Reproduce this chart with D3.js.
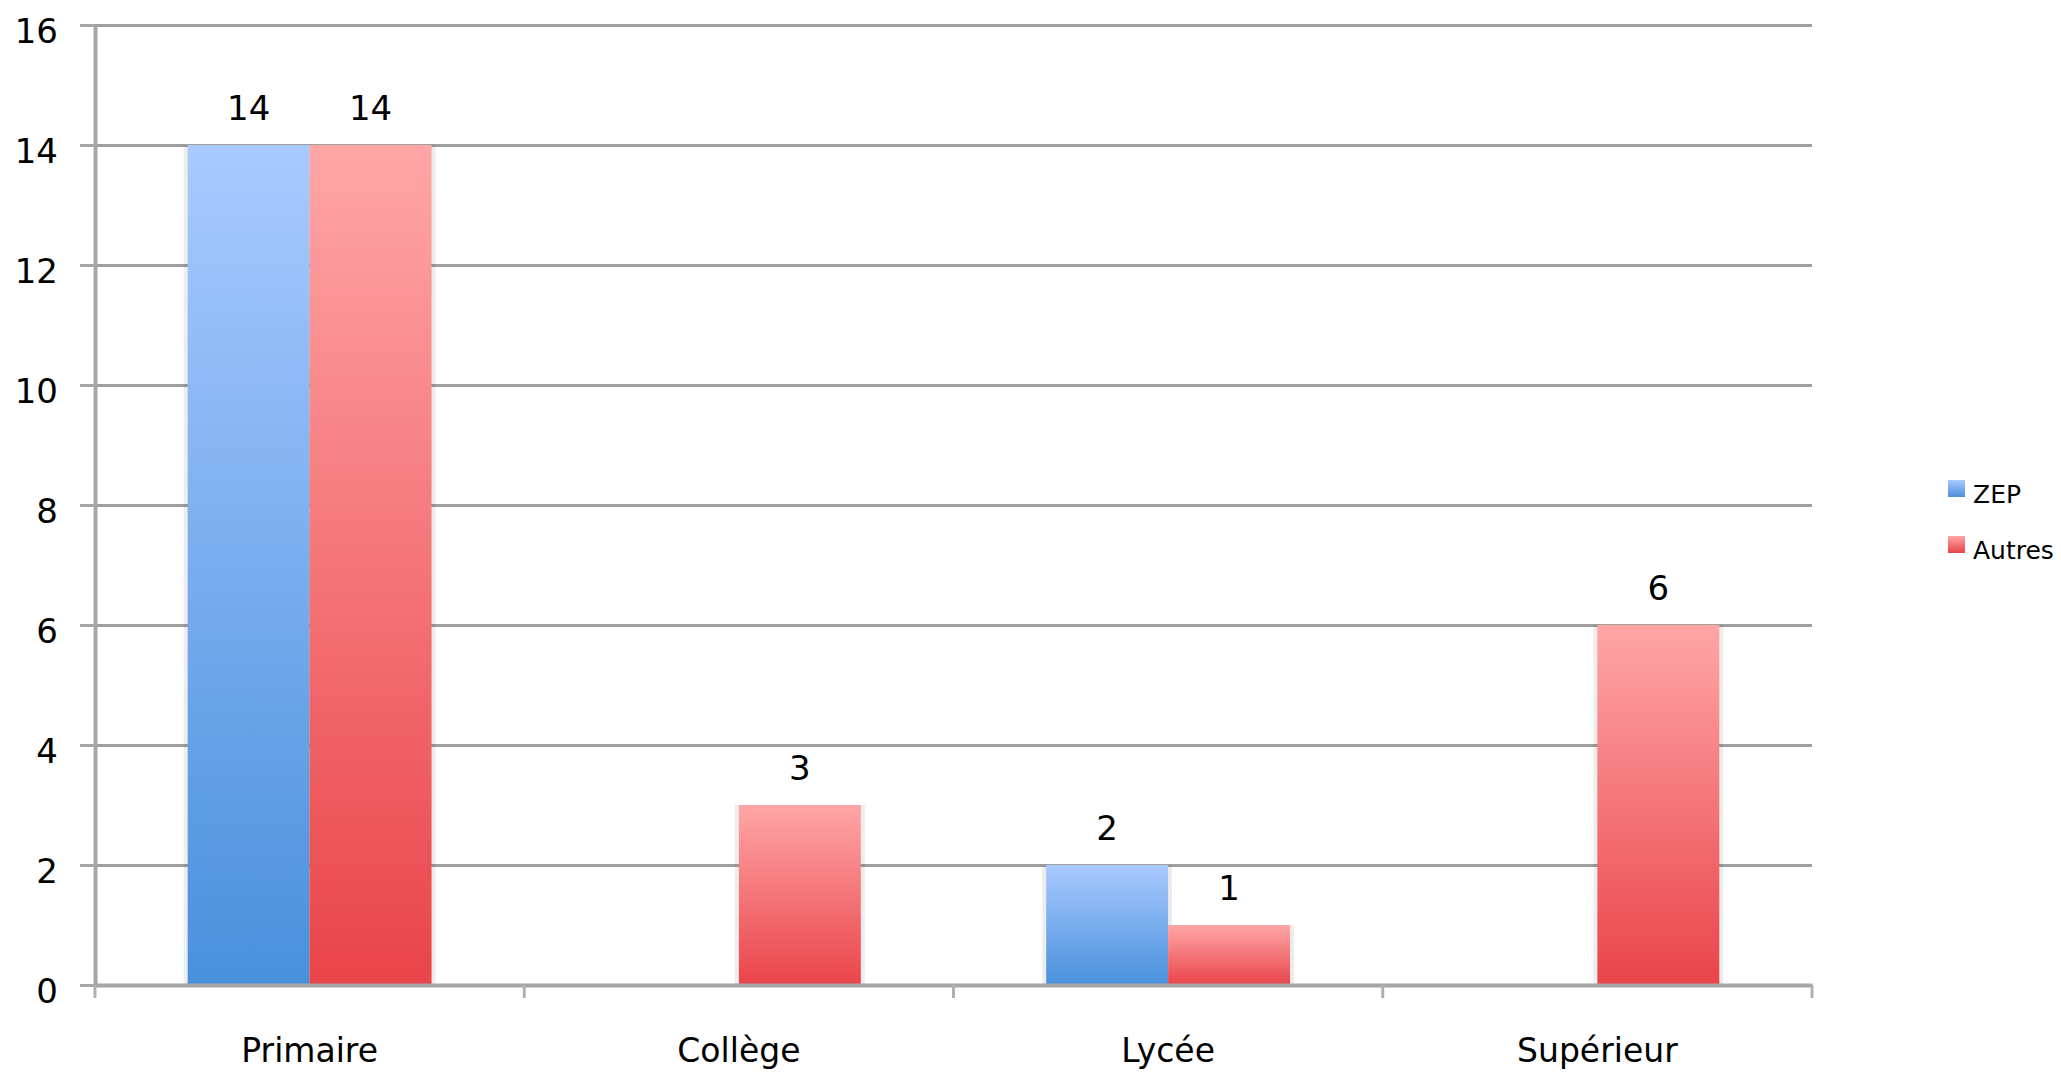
<!DOCTYPE html>
<html>
<head>
<meta charset="utf-8">
<script src="https://cdn.jsdelivr.net/npm/d3@7"></script>
<style>
  body { margin: 0; background: #fff; }
  text { font-family: "DejaVu Sans", "Lucida Grande", sans-serif; fill: #000; }
</style>
</head>
<body>
<div id="chart"></div>
<script>
// data
var categories = ["Primaire", "Collège", "Lycée", "Supérieur"];
var seriesNames = ["ZEP", "Autres"];
var zepValues = [14, 0, 2, 0];
var autresValues = [14, 3, 1, 6];
var yTicks = [0, 2, 4, 6, 8, 10, 12, 14, 16];

// set the dimensions and margins of the graph
var margin = {top: 25, right: 249, bottom: 89, left: 95},
    width = 2061 - margin.left - margin.right,
    height = 1074 - margin.top - margin.bottom;

var svg = d3.select("#chart")
  .append("svg")
    .attr("width", width + margin.left + margin.right)
    .attr("height", height + margin.top + margin.bottom);

// gradients, one per series (light on top, darker at the bottom)
var defs = svg.append("defs");
var gradColors = {ZEP: ["#a9caff", "#4990dc"], Autres: ["#ffa6a6", "#e9444a"]};
seriesNames.forEach(function(s) {
  var g = defs.append("linearGradient")
    .attr("id", "grad_" + s)
    .attr("x1", 0).attr("y1", 0).attr("x2", 0).attr("y2", 1);
  g.append("stop").attr("offset", "0%").attr("stop-color", gradColors[s][0]);
  g.append("stop").attr("offset", "100%").attr("stop-color", gradColors[s][1]);
});

var chart = svg.append("g")
    .attr("transform", "translate(" + margin.left + "," + margin.top + ")");

// scales
var x0 = d3.scaleBand()
  .domain(categories)
  .range([0, width])
  .padding(0);

var x1 = d3.scaleBand()
  .domain(seriesNames)
  .range([0, x0.bandwidth()])
  .paddingInner(0)
  .paddingOuter(0.76);

var y = d3.scaleLinear()
  .domain([0, 16])
  .range([height, 0]);

// horizontal gridlines
chart.append("g")
  .attr("class", "grid")
  .call(d3.axisLeft(y).tickValues(yTicks).tickSize(-width).tickFormat(""))
  .call(function(g) { g.select(".domain").remove(); })
  .selectAll("line")
    .attr("stroke", "#9f9f9f")
    .attr("stroke-width", 3);

// y axis with labels
var yAxis = chart.append("g")
  .call(d3.axisLeft(y).tickValues(yTicks).tickSize(15).tickSizeOuter(0).tickPadding(22));
yAxis.select(".domain").attr("stroke", "#a6a6a6").attr("stroke-width", 4);
yAxis.selectAll(".tick line").attr("stroke", "#a6a6a6").attr("stroke-width", 3);
yAxis.selectAll(".tick text")
  .style("font-size", "34px")
  .attr("dy", "0.5em");

// rows for the bars
var rows = categories.map(function(c, i) {
  return [{cat: c, series: "ZEP", value: zepValues[i]},
          {cat: c, series: "Autres", value: autresValues[i]}];
});

var groups = chart.selectAll("g.cat")
  .data(rows)
  .enter()
  .append("g")
    .attr("class", "cat")
    .attr("transform", function(d) { return "translate(" + x0(d[0].cat) + ",0)"; });

var bars = function(d) { return d.filter(function(b) { return b.value > 0; }); };

// faint shadow behind the bars
groups.selectAll("rect.shadow")
  .data(bars)
  .enter()
  .append("rect")
    .attr("class", "shadow")
    .attr("x", function(d) { return x1(d.series) - 4; })
    .attr("y", function(d) { return y(d.value); })
    .attr("width", x1.bandwidth() + 8)
    .attr("height", function(d) { return height - y(d.value); })
    .attr("fill", "#000")
    .attr("opacity", 0.07);

groups.selectAll("rect.bar")
  .data(bars)
  .enter()
  .append("rect")
    .attr("class", "bar")
    .attr("x", function(d) { return x1(d.series); })
    .attr("y", function(d) { return y(d.value); })
    .attr("width", x1.bandwidth())
    .attr("height", function(d) { return height - y(d.value); })
    .attr("fill", function(d) { return "url(#grad_" + d.series + ")"; });

// value labels
groups.selectAll("text.val")
  .data(bars)
  .enter()
  .append("text")
    .attr("class", "val")
    .attr("x", function(d) { return x1(d.series) + x1.bandwidth() / 2; })
    .attr("y", function(d) { return y(d.value) - 25; })
    .attr("text-anchor", "middle")
    .style("font-size", "34px")
    .text(function(d) { return d.value; });

// x axis
var xAxis = chart.append("g")
  .attr("transform", "translate(0," + height + ")")
  .call(d3.axisBottom(x0).tickSize(0).tickSizeOuter(0).tickPadding(54));
xAxis.select(".domain").attr("stroke", "#a6a6a6").attr("stroke-width", 4);
xAxis.selectAll(".tick text").style("font-size", "33px");

// ticks at the category boundaries
var bounds = categories.map(function(c) { return x0(c); }).concat([width]);
xAxis.selectAll("line.bound")
  .data(bounds)
  .enter()
  .append("line")
    .attr("class", "bound")
    .attr("x1", function(d) { return d; })
    .attr("x2", function(d) { return d; })
    .attr("y1", 0)
    .attr("y2", 13)
    .attr("stroke", "#b0b0b0")
    .attr("stroke-width", 3);

// legend
var legend = svg.append("g")
  .attr("transform", "translate(1948,480)");
var items = legend.selectAll("g")
  .data(seriesNames)
  .enter()
  .append("g")
    .attr("transform", function(d, i) { return "translate(0," + (i * 56) + ")"; });
items.append("rect")
  .attr("width", 17)
  .attr("height", 17)
  .attr("fill", function(d) { return "url(#grad_" + d + ")"; });
items.append("text")
  .attr("x", 25)
  .attr("y", 23)
  .style("font-size", "25px")
  .text(function(d) { return d; });
</script>
</body>
</html>
